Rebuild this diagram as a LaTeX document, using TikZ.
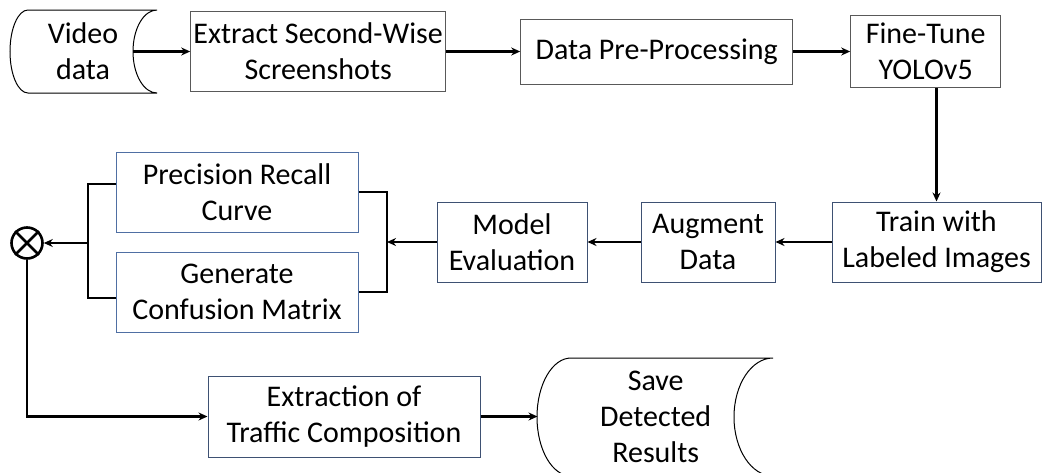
\documentclass[tikz,border=0pt]{standalone}
\usepackage{fontspec}
\setmainfont{Carlito}
\usepackage{xcolor}
\usepackage{tikz}
\usetikzlibrary{arrows.meta,positioning,calc}
\definecolor{boxgray}{HTML}{595959}
\definecolor{boxslate}{HTML}{3E5173}
\definecolor{boxblue}{HTML}{4F6FA3}

\begin{document}
\begin{tikzpicture}[
  x=1pt, y=1pt,
  font=\fontsize{30}{36}\selectfont,
  >={Stealth[length=9pt,width=8pt]},
  line/.style={->, line width=2.6pt, draw=black},
  wire/.style={line width=2.6pt, draw=black},
  box/.style={draw=boxgray, line width=1pt, align=center, inner sep=2pt, minimum height=80pt},
  store/.style={draw=black, line width=1pt},
  node distance=57pt
]
\useasboundingbox (0,0) rectangle (1042,-472);

\node[align=center, minimum width=100pt, minimum height=82pt] (vid) at (83,-51.5) {Video\\data};
\node[box, minimum width=255pt, right=57pt of vid] (ext) {Extract Second-Wise\\Screenshots};
\node[box, minimum width=272pt, minimum height=65pt, right=74pt of ext] (dpp) {Data Pre-Processing};
\node[box, minimum width=150pt, minimum height=72pt, right=57pt of dpp] (ft) {Fine-Tune\\YOLOv5};

\node[box, draw=boxslate, minimum width=209pt] (tr) at (936.5,-242) {Train with\\Labeled Images};
\node[box, draw=boxslate, minimum width=134pt, left=56pt of tr] (aug) {Augment\\Data};
\node[box, draw=boxslate, minimum width=150pt, left=53pt of aug] (mev) {Model\\Evaluation};

\node[box, draw=boxblue, minimum width=242pt] (pr) at (237,-192) {Precision Recall\\Curve};
\node[box, draw=boxblue, minimum width=242pt, below=19pt of pr] (gcm) {Generate\\Confusion Matrix};

\node[draw, circle, line width=2.6pt, minimum size=31pt, inner sep=0pt] (ot) at (27,-243) {};
\draw[wire] (ot.north west) -- (ot.south east) (ot.north east) -- (ot.south west);

\node[box, draw=boxslate, minimum width=272pt, minimum height=81pt] (etc) at (344,-416.5) {Extraction of\\Traffic Composition};
\node[align=center, minimum width=236pt, minimum height=118pt, right=57pt of etc] (sav) {Save\\Detected\\Results};

\draw[store] (28,-10) -- (157,-10) arc[start angle=90, end angle=270, x radius=24, y radius=41.5]
  -- (28,-93) arc[start angle=270, end angle=90, x radius=18, y radius=41.5];
\draw[store] (571,-358) -- (773,-358) arc[start angle=90, end angle=270, x radius=39, y radius=59]
  -- (571,-476) arc[start angle=270, end angle=90, x radius=34, y radius=59];

\coordinate (rb) at (387,-242);
\coordinate (lb) at (88,-243);

\draw[line] (vid) -- (ext);
\draw[line] (ext) -- (dpp);
\draw[line] (dpp) -- (ft);
\draw[line] (ft.south -| tr.north) -- (tr.north);
\draw[line] (tr) -- (aug);
\draw[line] (aug) -- (mev);
\draw[line] (mev) -- (rb);
\draw[wire] (pr.east) -| (rb) |- (gcm.east);
\draw[wire] ([yshift=8pt]pr.west) -| (lb) |- ([yshift=-6pt]gcm.west);
\draw[line] (lb) -- (ot);
\draw[line] (ot.south) |- (etc.west);
\draw[line] (etc) -- (sav);
\end{tikzpicture}
\end{document}
